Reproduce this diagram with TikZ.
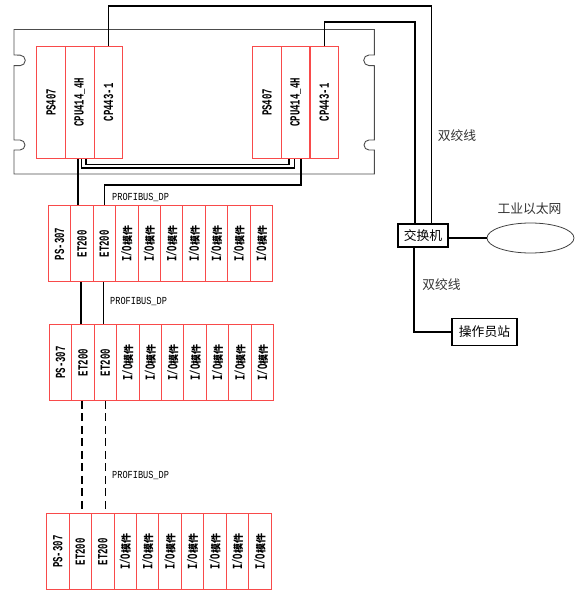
\documentclass[tikz,border=0pt]{standalone}
\usepackage{fontspec}
\usetikzlibrary{shapes.geometric}
\setmainfont{Liberation Mono}
\newfontfamily\cjk{Noto Sans CJK SC}
\newcommand{\narrowtxt}[1]{\scalebox{1}[1.55]{\fontsize{9}{9}\selectfont\bfseries #1}}
\newcommand{\rotlab}[1]{\rotatebox{90}{\narrowtxt{#1}}}
\newcommand{\iomod}{\rotatebox{90}{\narrowtxt{I/O}{\cjk\fontsize{10}{10}\selectfont\bfseries 模件}}}
\definecolor{modred}{HTML}{F84A4A}
\tikzset{
  rackmod/.style={draw=modred,line width=1pt,minimum width=28.6pt,minimum height=111.4pt,inner sep=0pt},
  stationmod/.style={draw=modred,line width=1pt,minimum width=22.45pt,minimum height=75.8pt,inner sep=0pt},
  wire/.style={draw=black,line width=1.25pt},
  thickwire/.style={draw=black,line width=1.8pt},
  dpwire/.style={draw=black,line width=1.5pt,dash pattern=on 8pt off 4.5pt},
  buslabel/.style={inner sep=0pt,font=\fontsize{8.6}{9}\selectfont},
  cnlabel/.style={inner sep=0pt,font=\cjk\fontsize{12.8}{13}\selectfont,text=black!80},
  cnbox/.style={draw=black,line width=1.3pt,inner sep=0pt,font=\cjk\fontsize{12.8}{13}\selectfont}
}
\begin{document}
\begin{tikzpicture}[x=1pt,y=-1pt]
\useasboundingbox (0,0) rectangle (581,602);
% rack outline
\draw[black!70,line width=0.9pt]
  (14,29.5) -- (374.3,29.5) -- (374.3,55)
  -- (369,55) arc[start angle=90,end angle=270,radius=5.3pt] -- (374.3,65.7)
  -- (374.3,140) -- (369,140) arc[start angle=90,end angle=270,radius=5pt] -- (374.3,150)
  -- (374.3,174) -- (14,174) -- (14,150)
  -- (20,150) arc[start angle=-90,end angle=90,radius=5pt] -- (14,140)
  -- (14,65.7) -- (20,65.7) arc[start angle=-90,end angle=90,radius=5.3pt] -- (14,55)
  -- cycle;
% rack modules
\node[rackmod] (psa) at (51,102.4) {\rotlab{PS407}};
\node[rackmod] (cpua) at (79.8,102.4) {\rotlab{CPU414\_4H}};
\node[rackmod] (cpa) at (108.5,102.4) {\rotlab{CP443-1}};
\node[rackmod] (psb) at (267,102.4) {\rotlab{PS407}};
\node[rackmod] (cpub) at (295.6,102.4) {\rotlab{CPU414\_4H}};
\node[rackmod] (cpb) at (324.3,102.4) {\rotlab{CP443-1}};
% stations
\foreach \r/\xa/\yc in {1/48.3/243.8, 2/49.3/362.5, 3/46.7/551.7}{
  \foreach \i/\t in {0/PS-307,1/ET200,2/ET200}{
    \node[stationmod] (s\r m\i) at ({\xa+11.2+22.45*\i},\yc) {\rotlab{\t}};
  }
  \foreach \i in {3,...,9}{
    \node[stationmod] (s\r m\i) at ({\xa+11.2+22.45*\i},\yc) {\iomod};
  }
}
% switch, network, station
\node[cnbox,minimum width=50pt,minimum height=23pt] (sw) at (423,235.5) {交换机};
\node[draw=black!75,line width=0.8pt,ellipse,minimum width=87pt,minimum height=30pt,inner sep=0pt] (net) at (530.5,238) {};
\node[cnbox,minimum width=65pt,minimum height=27.5pt] (op) at (484.5,332) {操作员站};
% labels
\node[cnlabel] (lab1) at (457,136) {双绞线};
\node[cnlabel] (lab2) at (441.5,285) {双绞线};
\node[cnlabel] (lab3) at (529.5,209) {工业以太网};
\node[buslabel,anchor=west] (bus1) at (112,197) {\scalebox{1}[1.25]{PROFIBUS\_DP}};
\node[buslabel,anchor=west] (bus2) at (110,301) {\scalebox{1}[1.25]{PROFIBUS\_DP}};
\node[buslabel,anchor=west] (bus3) at (112,475) {\scalebox{1}[1.25]{PROFIBUS\_DP}};
% uplinks
\coordinate (top1) at (431.7,6);
\coordinate (top2) at (415,22);
\draw[wire] (cpa.north) |- (top1) -- (top1 |- sw.north);
\draw[wire] (cpb.north) |- (top2) -- (top2 |- sw.north);
\draw[wire] (net.west -| sw.east) -- (net.west);
\draw[wire] ([xshift=-9pt]sw.south) |- (op.west);
% sync links
\coordinate (sy1) at (0,168);
\coordinate (sy2) at (0,164.5);
\coordinate (bus) at (0,185);
\draw[wire,line width=1.1pt] ([xshift=2pt]cpua.south) |- ([xshift=-1.5pt]cpub.south |- sy1) -- ([xshift=-1.5pt]cpub.south);
\draw[wire,line width=1.1pt] ([xshift=6.2pt]cpua.south) |- ([xshift=-6.6pt]cpub.south |- sy2) -- ([xshift=-6.6pt]cpub.south);
\draw[thickwire] ([xshift=-1.8pt]cpua.south) -- ([xshift=-1.8pt]cpua.south |- s1m1.north);
\draw[wire] ([xshift=5.4pt]cpub.south) |- ([xshift=0.3pt]s1m2.north |- bus) -- ([xshift=0.3pt]s1m2.north);
% profibus links
\draw[wire,line width=1.5pt] ([xshift=-1.2pt]s1m1.south) -- ([xshift=-1.2pt]s1m1.south |- s2m1.north);
\draw[wire,line width=1.3pt] ([xshift=-0.7pt]s1m2.south) -- ([xshift=-0.7pt]s1m2.south |- s2m2.north);
\draw[dpwire] ([xshift=-1.2pt]s2m1.south) -- ([xshift=-1.2pt]s2m1.south |- s3m1.north);
\draw[dpwire] (s2m2.south) -- (s2m2.south |- s3m2.north);
\end{tikzpicture}
\end{document}
